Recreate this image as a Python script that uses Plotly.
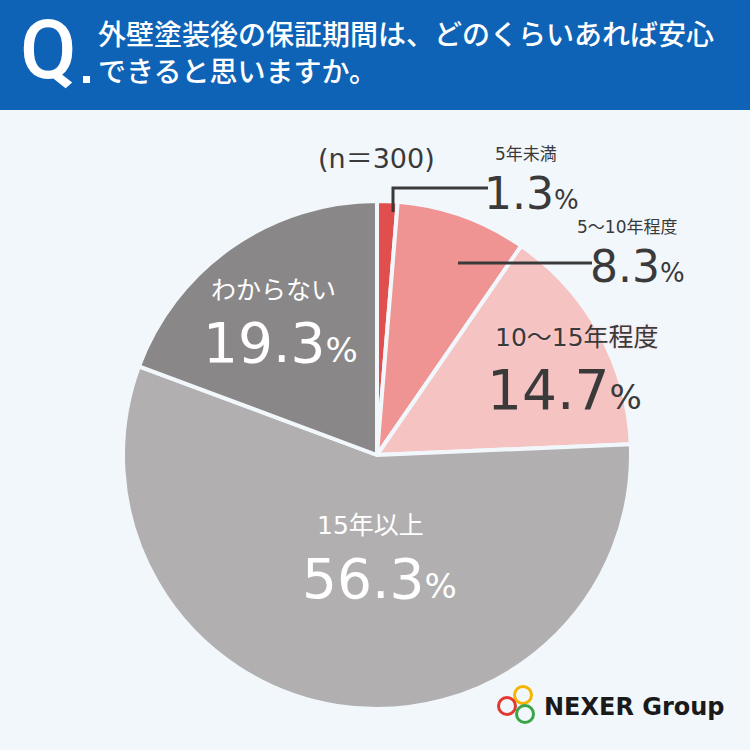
import plotly.graph_objects as go

W = H = 750

labels = ["5年未満", "5～10年程度", "10～15年程度", "15年以上", "わからない"]
values = [1.3, 8.3, 14.7, 56.3, 19.3]
colors = ["#e04e4e", "#f09393", "#f6c3c3", "#b1afb0", "#8a8788"]
n_text = "(n＝300)"
question = ["外壁塗装後の保証期間は、どのくらいあれば安心", "できると思いますか。"]

BG = "#f2f7fc"
JP = "Noto Sans CJK JP"
NUM = "DejaVu Sans, Noto Sans CJK JP"
DARK = "#3a3a3a"


def px(x):
    return x / W


def py(y):
    return 1 - y / H


def pct(v, small):
    return f"{v}<span style='font-size:{small}px'>%</span>"


cx, cy, r = 377, 455, 254

fig = go.Figure(go.Pie(
    labels=labels,
    values=values,
    sort=False,
    direction="clockwise",
    rotation=0,
    marker=dict(colors=colors, line=dict(color=BG, width=4)),
    textinfo="none",
    hoverinfo="label+value",
    showlegend=False,
    domain=dict(x=[px(cx - r), px(cx + r)], y=[py(cy + r), py(cy - r)]),
))

shapes = [
    # header band
    dict(type="rect", xref="paper", yref="paper", x0=0, x1=1, y0=py(110), y1=1,
         fillcolor="#0e63b6", line_width=0, layer="below"),
    dict(type="rect", xref="paper", yref="paper", x0=px(83), x1=px(90), y0=py(83), y1=py(76),
         fillcolor="white", line_width=0),
    # leader lines
    dict(type="path", xref="paper", yref="paper",
         path=f"M {px(393)} {py(212)} L {px(393)} {py(188)} L {px(488)} {py(188)}",
         line=dict(color=DARK, width=3)),
    dict(type="line", xref="paper", yref="paper", x0=px(458), x1=px(592), y0=py(263), y1=py(263),
         line=dict(color=DARK, width=3)),
]

# logo rings
for (lx, ly, c) in [(523, 695, "#f4b400"), (507, 706, "#e2382f"), (525, 714, "#38a547")]:
    shapes.append(dict(type="circle", xref="paper", yref="paper",
                       x0=px(lx - 8.5), x1=px(lx + 8.5), y0=py(ly + 8.5), y1=py(ly - 8.5),
                       line=dict(color=c, width=3)))

ann = []


def add(text, x, y, size, color=DARK, font=JP, weight=500, xanchor="center", yanchor="middle", **kw):
    ann.append(dict(text=text, x=px(x), y=py(y), xref="paper", yref="paper",
                    xanchor=xanchor, yanchor=yanchor, showarrow=False,
                    font=dict(family=font, size=size, color=color, weight=weight, **kw.pop("f", {})),
                    **kw))


# header
add("Q", 49, 50, 82, color="white", font="Roboto, Arial", weight=500)
add(question[0], 96, 33, 28, color="white", xanchor="left")
add(question[1], 96, 70, 28, color="white", xanchor="left")

# outside labels
add(n_text, 376, 159, 27, font=NUM, weight=400)
add(labels[0], 526, 166, 17, yanchor="bottom", font=NUM, weight=400)
add(pct(values[0], 26), 531, 170, 44, yanchor="top", height=42, font=NUM, weight=400)
add(labels[1], 627, 239, 17, yanchor="bottom", font=NUM, weight=400)
add(pct(values[1], 26), 637, 243, 44, yanchor="top", height=42, font=NUM, weight=400)

# inside labels
add(labels[2], 577, 337, 25, font=NUM, weight=400, f=dict(shadow="0px 0px 3px #f9d6d6"))
add(pct(values[2], 34), 564, 390, 55, font=NUM, weight=400)
add(labels[4], 273, 290, 25, color="white", font=NUM, weight=400)
add(pct(values[4], 34), 280, 343, 55, color="white", font=NUM, weight=400)
add(labels[3], 370, 525, 25, color="white", font=NUM, weight=400)
add(pct(values[3], 34), 379, 579, 55, color="white", font=NUM, weight=400)

# logo text
add("NEXER Group", 542, 707, 24, color="#1a1a1a", font="DejaVu Sans, Lato", weight=700, xanchor="left")

fig.update_layout(
    width=W, height=H,
    margin=dict(l=0, r=0, t=0, b=0),
    paper_bgcolor=BG, plot_bgcolor=BG,
    shapes=shapes,
    annotations=ann,
)

fig.write_html("out.html", config={"displayModeBar": False},
               post_script="document.body.style.margin='0';")
